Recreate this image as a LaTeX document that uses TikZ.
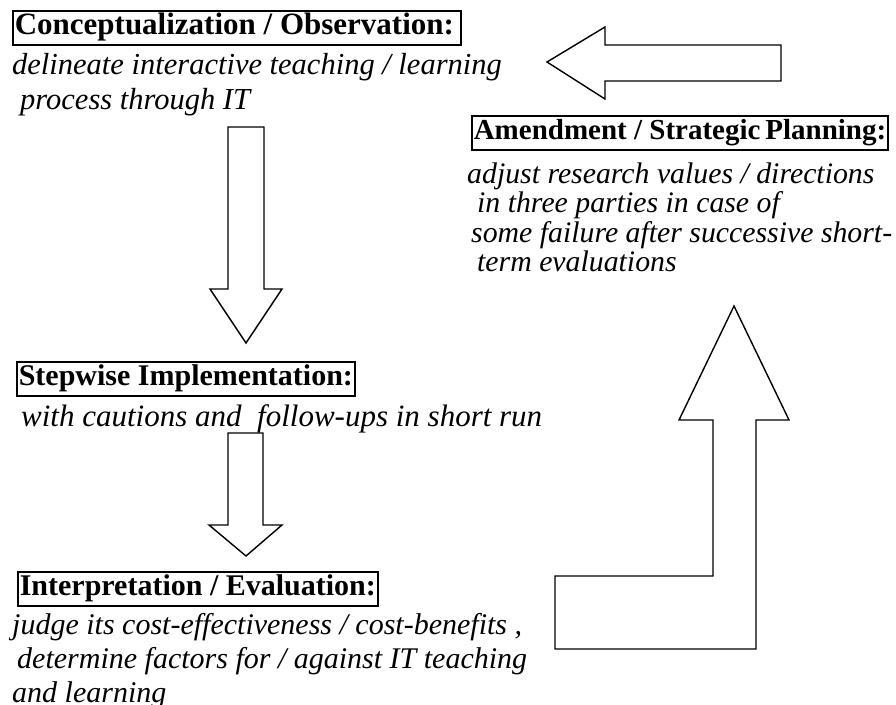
\documentclass[tikz,border=0pt]{standalone}
\usepackage{fontspec}
\setmainfont{Liberation Serif}
\usetikzlibrary{positioning}
\tikzset{
  heading/.style={draw, line width=1.6pt, anchor=north west,
    font=\bfseries\fontsize{31}{34}\selectfont,
    inner xsep=2pt, inner ysep=3pt, text height=21pt, text depth=7pt},
  remark/.style={anchor=north west, align=left, inner sep=0pt,
    font=\itshape\fontsize{30.5}{35}\selectfont},
  blockarrow/.style={draw, line width=1.4pt, line join=miter, fill=white},
}
\begin{document}
\begin{tikzpicture}[x=1pt, y=-1pt]
  \useasboundingbox (0,0) rectangle (896,704);
  % stages
  \node (concept) [heading] at (12,10) {Conceptualization / Observation:\kern5pt};
  \node (conceptnote) [remark, below=8pt of concept.south west, anchor=north west]
    {delineate interactive teaching / learning\\ \hspace*{8pt}process through IT};
  \node (amend) [heading, font=\bfseries\fontsize{29}{34}\selectfont] at (471,115)
    {Amendment / Strategic\,Planning:};
  \node (amendnote) [remark, font=\itshape\fontsize{29.8}{29.5}\selectfont,
    below=12pt of amend.south west, anchor=north west, xshift=-4pt]
    {adjust research values / directions\\ \hspace*{10pt}in three parties in case of\\
     \hspace*{4pt}some failure after successive short-\\ \hspace*{10pt}term evaluations};
  \node (step) [heading, font=\bfseries\fontsize{30}{34}\selectfont] at (16,361)
    {Stepwise Implementation:};
  \node (stepnote) [remark, font=\itshape\fontsize{31}{31}\selectfont,
    below=8pt of step.south west, anchor=north west, xshift=5pt]
    {with cautions and \ follow-ups in short run};
  \node (interp) [heading, font=\bfseries\fontsize{30}{34}\selectfont] at (17,571)
    {Interpretation / Evaluation:};
  \node (interpnote) [remark, font=\itshape\fontsize{30}{34}\selectfont,
    below=7pt of interp.south west, anchor=north west, xshift=-5pt]
    {judge its cost-effectiveness / cost-benefits ,\\ \hspace*{5pt}determine factors for / against IT teaching\\ and learning};
  % block arrows
  \draw [blockarrow] (547,62) -- (605,27) -- (605,45) -- (781,45) -- (781,81)
    -- (605,81) -- (605,99) -- cycle;
  \draw [blockarrow] (228,127) -- (264,127) -- (264,289) -- (282,289) -- (246,343)
    -- (210,289) -- (228,289) -- cycle;
  \draw [blockarrow] (228,433) -- (263,433) -- (263,525) -- (282,525) -- (246,556)
    -- (209,525) -- (228,525) -- cycle;
  \draw [blockarrow] (734,306) -- (789,420) -- (756,420) -- (756,649) -- (555,649)
    -- (555,576) -- (713,576) -- (713,420) -- (679,420) -- cycle;
\end{tikzpicture}
\end{document}
